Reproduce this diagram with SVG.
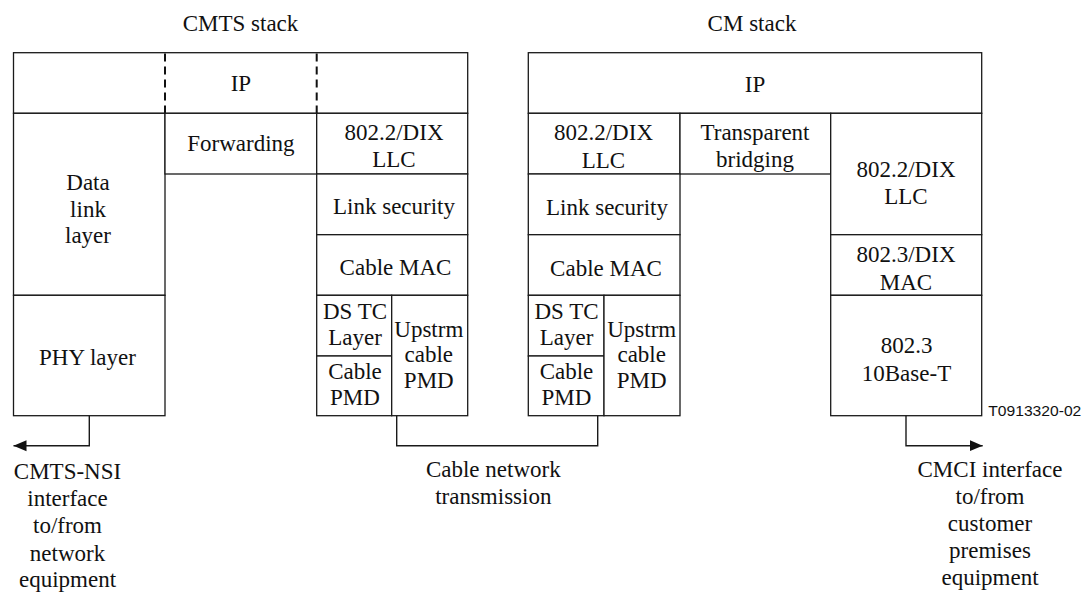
<svg xmlns="http://www.w3.org/2000/svg" width="1086" height="593" viewBox="0 0 1086 593">
  <style>
    .box { fill: #ffffff; stroke: #1a1a1a; stroke-width: 1.3; }
    .dash { stroke: #111111; stroke-width: 2; stroke-dasharray: 8 5; fill: none; }
    .lbl { font-family: "Liberation Serif", "Times New Roman", serif; font-size: 23px; fill: #111111; text-anchor: middle; }
    .tag { font-family: "Liberation Sans", Arial, sans-serif; font-size: 15.5px; fill: #111111; }
    .wire { fill: none; stroke: #1a1a1a; stroke-width: 1.4; }
  </style>
  <defs>
    <marker id="arrow" markerUnits="userSpaceOnUse" markerWidth="14" markerHeight="12" refX="13" refY="6" orient="auto">
      <path d="M0,0.5 L13,6 L0,11.5 Z" fill="#111111"/>
    </marker>
  </defs>
  <rect width="1086" height="593" fill="#ffffff"/>

  <!-- stack titles -->
  <text class="lbl" x="240.5" y="31">CMTS stack</text>
  <text class="lbl" x="752" y="31">CM stack</text>

  <!-- CMTS stack -->
  <g id="cmts-ip">
    <rect class="box" x="13.5" y="52.7" width="454.2" height="60.6"/>
    <line class="dash" x1="165" y1="53.5" x2="165" y2="113"/>
    <line class="dash" x1="316.7" y1="53.5" x2="316.7" y2="113"/>
    <text class="lbl" x="240.9" y="90.5">IP</text>
  </g>
  <g id="cmts-datalink">
    <rect class="box" x="13.5" y="113.3" width="151.5" height="182"/>
    <text class="lbl" x="88"><tspan x="88" y="190">Data</tspan><tspan x="88" y="216.7">link</tspan><tspan x="88" y="243.3">layer</tspan></text>
  </g>
  <g id="cmts-phy">
    <rect class="box" x="13.5" y="295.3" width="151.5" height="120.4"/>
    <text class="lbl" x="87.5" y="365">PHY layer</text>
  </g>
  <g id="cmts-forwarding">
    <rect class="box" x="165" y="113.3" width="151.7" height="60.7"/>
    <text class="lbl" x="240.9" y="150.7">Forwarding</text>
  </g>
  <g id="cmts-llc">
    <rect class="box" x="316.7" y="113.3" width="151" height="60.7"/>
    <text class="lbl"><tspan x="394" y="140">802.2/DIX</tspan><tspan x="394" y="167.3">LLC</tspan></text>
  </g>
  <g id="cmts-linksec">
    <rect class="box" x="316.7" y="174" width="151" height="60.7"/>
    <text class="lbl" x="394" y="214.3">Link security</text>
  </g>
  <g id="cmts-cablemac">
    <rect class="box" x="316.7" y="234.7" width="151" height="60.6"/>
    <text class="lbl" x="395.5" y="275">Cable MAC</text>
  </g>
  <g id="cmts-dstc">
    <rect class="box" x="316.7" y="295.3" width="75" height="60.7"/>
    <text class="lbl"><tspan x="355" y="319">DS TC</tspan><tspan x="355" y="345">Layer</tspan></text>
  </g>
  <g id="cmts-cablepmd">
    <rect class="box" x="316.7" y="356" width="75" height="59.7"/>
    <text class="lbl"><tspan x="355" y="379.3">Cable</tspan><tspan x="355" y="405">PMD</tspan></text>
  </g>
  <g id="cmts-upstrm">
    <rect class="box" x="391.7" y="295.3" width="76" height="120.4"/>
    <text class="lbl"><tspan x="428.8" y="336.7">Upstrm</tspan><tspan x="428.8" y="362">cable</tspan><tspan x="428.8" y="387.7">PMD</tspan></text>
  </g>

  <!-- CM stack -->
  <g id="cm-ip">
    <rect class="box" x="528.3" y="52.7" width="453.4" height="60.6"/>
    <text class="lbl" x="755" y="92">IP</text>
  </g>
  <g id="cm-llc">
    <rect class="box" x="528.3" y="113.3" width="151.7" height="60.7"/>
    <text class="lbl"><tspan x="603.5" y="140">802.2/DIX</tspan><tspan x="603.5" y="167.5">LLC</tspan></text>
  </g>
  <g id="cm-bridging">
    <rect class="box" x="680" y="113.3" width="150.7" height="60.7"/>
    <text class="lbl"><tspan x="755" y="140">Transparent</tspan><tspan x="755" y="166.7">bridging</tspan></text>
  </g>
  <g id="cm-linksec">
    <rect class="box" x="528.3" y="174" width="151.7" height="60.7"/>
    <text class="lbl" x="607" y="215">Link security</text>
  </g>
  <g id="cm-cablemac">
    <rect class="box" x="528.3" y="234.7" width="151.7" height="60.6"/>
    <text class="lbl" x="606" y="276">Cable MAC</text>
  </g>
  <g id="cm-dstc">
    <rect class="box" x="528.3" y="295.3" width="75.7" height="60.7"/>
    <text class="lbl"><tspan x="566.5" y="319">DS TC</tspan><tspan x="566.5" y="345">Layer</tspan></text>
  </g>
  <g id="cm-cablepmd">
    <rect class="box" x="528.3" y="356" width="75.7" height="59.7"/>
    <text class="lbl"><tspan x="566.5" y="379.3">Cable</tspan><tspan x="566.5" y="405">PMD</tspan></text>
  </g>
  <g id="cm-upstrm">
    <rect class="box" x="604" y="295.3" width="76" height="120.4"/>
    <text class="lbl"><tspan x="641.7" y="336.7">Upstrm</tspan><tspan x="641.7" y="362">cable</tspan><tspan x="641.7" y="387.7">PMD</tspan></text>
  </g>
  <g id="cm-eth-llc">
    <rect class="box" x="830.7" y="113.3" width="151" height="121.4"/>
    <text class="lbl"><tspan x="906" y="176.7">802.2/DIX</tspan><tspan x="906" y="204">LLC</tspan></text>
  </g>
  <g id="cm-eth-mac">
    <rect class="box" x="830.7" y="234.7" width="151" height="60.6"/>
    <text class="lbl"><tspan x="906" y="261.7">802.3/DIX</tspan><tspan x="906" y="290">MAC</tspan></text>
  </g>
  <g id="cm-10baset">
    <rect class="box" x="830.7" y="295.3" width="151" height="120.4"/>
    <text class="lbl"><tspan x="906.5" y="353.3">802.3</tspan><tspan x="906.5" y="380.7">10Base-T</tspan></text>
  </g>

  <text class="tag" x="988.3" y="415.5" textLength="93" lengthAdjust="spacingAndGlyphs">T0913320-02</text>

  <!-- connectors -->
  <g id="connectors">
    <path class="wire" d="M89.3,415.7 V445.7 H13.5" marker-end="url(#arrow)"/>
    <path class="wire" d="M396.7,415.7 V445.7 H597.7 V415.7"/>
    <path class="wire" d="M906,415.7 V445.7 H982.7" marker-end="url(#arrow)"/>
  </g>

  <!-- interface labels -->
  <g id="label-nsi">
    <text class="lbl"><tspan x="67.5" y="479">CMTS-NSI</tspan><tspan x="67.5" y="506">interface</tspan><tspan x="67.5" y="533.3">to/from</tspan><tspan x="67.5" y="560.7">network</tspan><tspan x="67.5" y="587">equipment</tspan></text>
  </g>
  <g id="label-cable">
    <text class="lbl"><tspan x="493.3" y="476.7">Cable network</tspan><tspan x="493.3" y="504">transmission</tspan></text>
  </g>
  <g id="label-cmci">
    <text class="lbl"><tspan x="990" y="476.7">CMCI interface</tspan><tspan x="990" y="504">to/from</tspan><tspan x="990" y="531">customer</tspan><tspan x="990" y="558.3">premises</tspan><tspan x="990" y="585">equipment</tspan></text>
  </g>
</svg>
